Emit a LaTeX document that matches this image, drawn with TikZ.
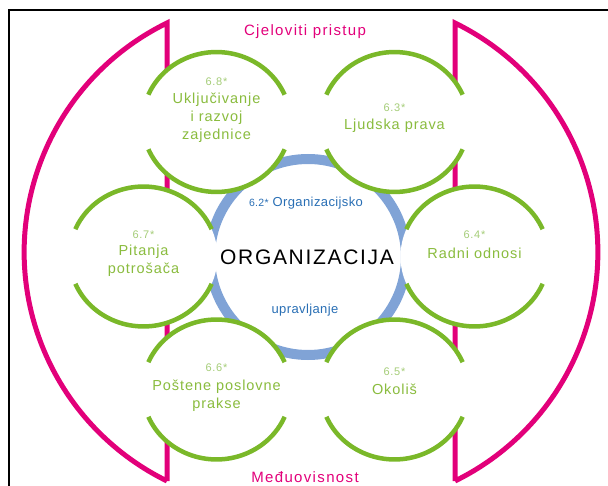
\documentclass[tikz,border=0pt]{standalone}
\usepackage{fontspec}
\setmainfont{Liberation Sans}
\newfontfamily\greenfont[LetterSpace=6.5]{Liberation Sans}
\newfontfamily\orgfont[LetterSpace=8]{Liberation Sans}
\newfontfamily\magfont[LetterSpace=9]{Liberation Sans}
\newfontfamily\bluefont[LetterSpace=3]{Liberation Sans}
\definecolor{mag}{RGB}{226,0,122}
\definecolor{grn}{RGB}{122,184,41}
\definecolor{grntxt}{RGB}{138,188,62}
\definecolor{grnlab}{RGB}{165,205,120}
\definecolor{ringc}{RGB}{128,163,214}
\definecolor{bluetxt}{RGB}{40,110,180}
\begin{document}
\begin{tikzpicture}[x=1pt,y=1pt,
  magline/.style={draw=mag,line width=5pt,line join=miter},
  greenarc/.style={draw=grn,line width=4.5pt},
  circbody/.style={text=grntxt,align=center,inner sep=0pt,
    font=\greenfont\fontsize{14.5}{18}\selectfont},
  circlab/.style={text=grnlab,inner sep=0pt,font=\greenfont\fontsize{11}{12}\selectfont},
  magtext/.style={text=mag,inner sep=0pt,font=\magfont\fontsize{15}{18}\selectfont},
  bluetext/.style={text=bluetxt,inner sep=0pt,font=\bluefont\fontsize{13}{15}\selectfont}]
\useasboundingbox (0,0) rectangle (608,485);
% frame
\draw[line width=2pt] (9,-20) -- (9,475) -- (630,475);
% magenta shapes
\draw[magline] (167,4) -- (167,462) arc[start angle=116.1,end angle=243.9,radius=255] -- cycle;
\draw[magline] (455,4) -- (455,462) arc[start angle=63.9,end angle=-63.9,radius=255] -- cycle;
% blue ring
\draw[ringc,line width=10pt] (308,228) circle[radius=98];
% green circles
\foreach \cx/\cy in {216.5/363, 394.5/363, 143.5/228.5, 474.5/228.5, 216.5/95.5, 394.5/95.5}{
  \fill[white] (\cx,\cy) ellipse[x radius=74,y radius=70];
}
\foreach \cx/\cy in {216.5/363, 394.5/363, 143.5/228.5, 474.5/228.5, 216.5/95.5, 394.5/95.5}{
  \draw[greenarc] (\cx+68.1,\cy+27.3) arc[start angle=23,end angle=157,x radius=74,y radius=70];
  \draw[greenarc] (\cx-68.1,\cy-27.3) arc[start angle=203,end angle=337,x radius=74,y radius=70];
}
% texts
\node[magtext] (top) at (305,453) {Cjeloviti pristup};
\node[magtext] (bot) at (305,8) {Međuovisnost};
\node[text=black,inner sep=0pt,font=\orgfont\fontsize{21}{24}\selectfont] (org) at (307,228) {ORGANIZACIJA};
\node[bluetext] (gov1) at (306,282) {{\fontsize{10.5}{12}\selectfont 6.2*} Organizacijsko};
\node[bluetext] (gov2) at (305,175) {upravljanje};
\node[circlab] (l68) at (216.5,403) {6.8*};
\node[circbody] (t68) at (216.5,367) {Uključivanje\\i razvoj\\zajednice};
\node[circlab] (l63) at (394.5,377) {6.3*};
\node[circbody] (t63) at (394.5,359) {Ljudska prava};
\node[circlab] (l67) at (143.5,250) {6.7*};
\node[circbody] (t67) at (143.5,224) {Pitanja\\potrošača};
\node[circlab] (l64) at (474.5,250) {6.4*};
\node[circbody] (t64) at (474.5,232) {Radni odnosi};
\node[circlab] (l66) at (216.5,117) {6.6*};
\node[circbody] (t66) at (216.5,89) {Poštene poslovne\\prakse};
\node[circlab] (l65) at (394.5,113) {6.5*};
\node[circbody] (t65) at (394.5,96) {Okoliš};
\end{tikzpicture}
\end{document}
